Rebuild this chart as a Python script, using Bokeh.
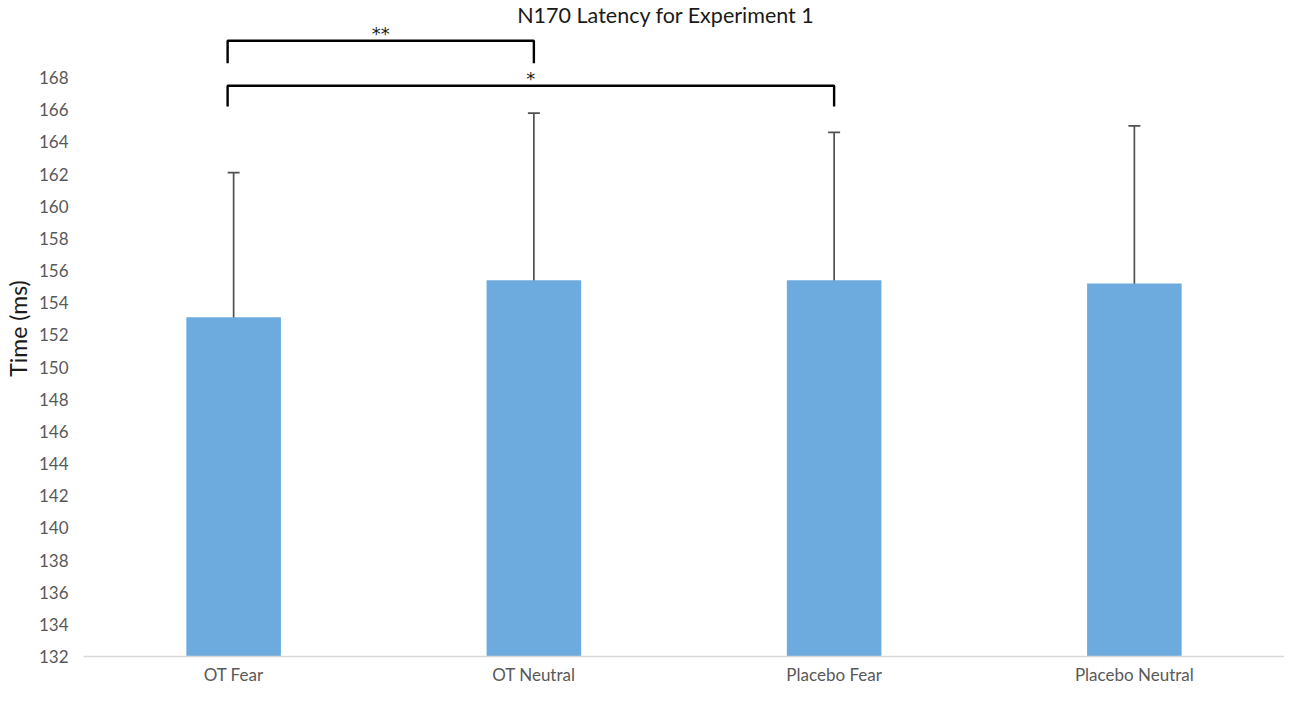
from bokeh.plotting import figure
from bokeh.models import ColumnDataSource, Whisker, TeeHead, FixedTicker, Label, Range1d
from bokeh.core.properties import value
from bokeh.embed import file_html
from bokeh.resources import INLINE

# ---- data ----
categories = ["OT Fear", "OT Neutral", "Placebo Fear", "Placebo Neutral"]
mean_latency = [153.1, 155.4, 155.4, 155.2]
error_size = [9.0, 10.4, 9.2, 9.8]

bracket_from = [0, 0]
bracket_to = [1, 2]
bracket_top = [170.3, 167.5]
bracket_leg_end = [168.9, 166.2]
bracket_labels = ["**", "*"]

y_ticks = list(range(132, 169, 2))
y_min, y_max = 132, 172.8

title_text = "N170 Latency for Experiment 1"
y_label = "Time (ms)"

FONT = "Lato"

# ---- derived ----
x_pos = [i + 0.5 for i in range(len(categories))]
src = ColumnDataSource(dict(
    x=x_pos,
    mean=mean_latency,
    upper=[m + e for m, e in zip(mean_latency, error_size)],
    lower=[m - e for m, e in zip(mean_latency, error_size)],
))

p = figure(width=1284, height=687,
           x_range=Range1d(0, len(categories)), y_range=Range1d(y_min, y_max),
           output_backend="svg", toolbar_location=None,
           min_border_left=60, min_border_right=0, min_border_top=0, min_border_bottom=20)
p.outline_line_color = None
p.grid.visible = False
p.background_fill_color = "white"
p.border_fill_color = "white"

p.vbar(x="x", top="mean", bottom=y_min, width=0.315, fill_color="#6DAADD",
       line_color=None, source=src)

err = Whisker(base="x", upper="upper", lower="lower", source=src,
              line_color="#505050", line_width=1.7,
              upper_head=TeeHead(size=12, line_color="#505050", line_width=1.7),
              lower_head=TeeHead(size=12, line_color="#505050", line_width=1.7))
p.add_layout(err)

# significance brackets
bxs, bys = [], []
for a, b, top, leg in zip(bracket_from, bracket_to, bracket_top, bracket_leg_end):
    xa = x_pos[a] - 0.02
    xb = x_pos[b]
    bxs.append([xa, xa, xb, xb])
    bys.append([leg, top, top, leg])
p.multi_line(xs=bxs, ys=bys, line_color="black", line_width=2.4)

star_src = ColumnDataSource(dict(
    x=[(x_pos[a] - 0.02 + x_pos[b]) / 2 for a, b in zip(bracket_from, bracket_to)],
    y=bracket_top,
    t=bracket_labels,
))
p.text(x="x", y="y", text="t", source=star_src, text_align="center",
       text_baseline="middle", text_font=value("DejaVu Sans"), text_font_size="18px",
       text_color="#1a1a1a", y_offset=-7)

# title as label
p.add_layout(Label(x=1.94, y=171.9, text=title_text, text_align="center",
                   text_baseline="middle", text_font=FONT, text_font_size="21.5px",
                   text_color="#1a1a1a"))

# axes
xa_ = p.xaxis[0]
xa_.ticker = FixedTicker(ticks=x_pos)
xa_.major_label_overrides = {x: c for x, c in zip(x_pos, categories)}
xa_.axis_line_color = "#D9D9D9"
xa_.axis_line_width = 1.5
xa_.major_tick_line_color = None
xa_.minor_tick_line_color = None
xa_.major_label_text_font = FONT
xa_.major_label_text_font_size = "17px"
xa_.major_label_text_color = "#595959"
xa_.major_label_standoff = 1

ya = p.yaxis[0]
ya.ticker = FixedTicker(ticks=y_ticks)
ya.axis_line_color = None
ya.major_tick_line_color = None
ya.minor_tick_line_color = None
ya.major_label_text_font = FONT
ya.major_label_text_font_size = "17px"
ya.major_label_text_color = "#595959"
ya.major_label_standoff = 9
ya.axis_label = y_label
ya.axis_label_text_font = FONT
ya.axis_label_text_font_style = "normal"
ya.axis_label_text_font_size = "23px"
ya.axis_label_text_color = "#1a1a1a"
ya.axis_label_standoff = 4

open("out.html", "w").write(file_html(p, INLINE))
